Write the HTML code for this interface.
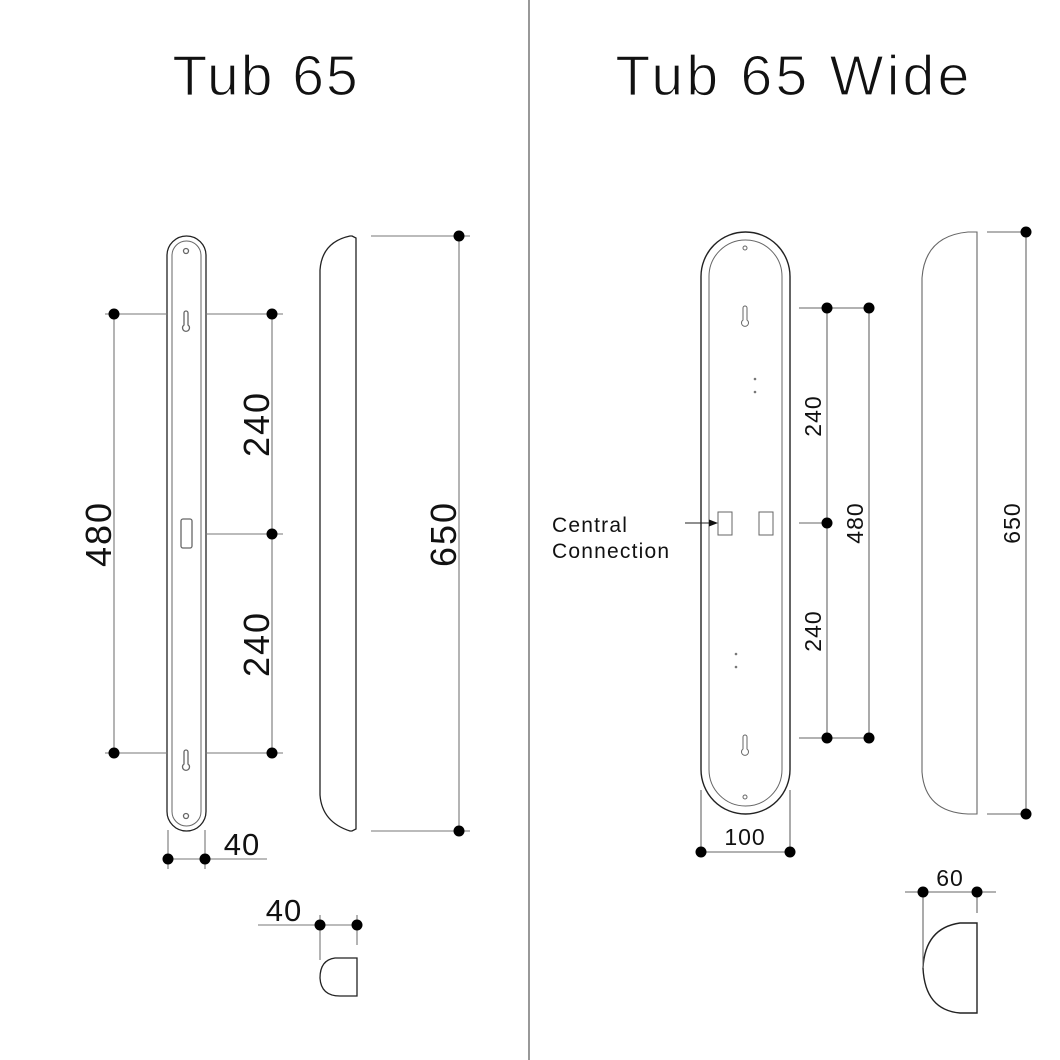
<!DOCTYPE html>
<html><head><meta charset="utf-8"><style>
html,body{margin:0;padding:0;background:#fff}
svg{display:block}
text{font-family:"Liberation Sans",sans-serif;fill:#111}
.t{stroke:#fff;stroke-width:1.2;paint-order:normal}
</style></head><body>
<svg width="1060" height="1060" viewBox="0 0 1060 1060">
<rect width="1060" height="1060" fill="#fff"/>
<line x1="529" y1="0" x2="529" y2="1060" stroke="#555" stroke-width="1.2"/>
<text class="t" x="266" y="95" font-size="57" text-anchor="middle" letter-spacing="2">Tub 65</text>
<text class="t" x="794" y="95" font-size="57" text-anchor="middle" letter-spacing="3.3">Tub 65 Wide</text>

<!-- LEFT -->
<g fill="none" stroke="#222" stroke-width="1.3">
<rect x="167" y="236" width="39" height="595" rx="19.5"/>
<rect x="172" y="241" width="29" height="585" rx="14.5" stroke="#666" stroke-width="1"/>
<circle cx="186" cy="251" r="2.5" stroke="#666"/>
<circle cx="186" cy="816" r="2.5" stroke="#666"/>
<path d="M184,313 L184,325 A3.5,3.5 0 1 0 188,325 L188,313 A2,2 0 0 0 184,313Z" stroke="#666"/>
<path d="M184,752 L184,764 A3.5,3.5 0 1 0 188,764 L188,752 A2,2 0 0 0 184,752Z" stroke="#666"/>
<rect x="181" y="519" width="11" height="29" rx="2" stroke="#666"/>
<path d="M352,236 L356,238 L356,829 L352,831 L350,831 Q322,822 320,795 L320,270 Q322,242 350,236 Z"/>
<path d="M357,958 L335,958 Q320,960 320,978 Q321,996 340,996 L357,996 Z"/>
</g>
<g stroke="#777" stroke-width="1.1" fill="none">
<line x1="105" y1="314" x2="168" y2="314"/><line x1="105" y1="753" x2="168" y2="753"/>
<line x1="114" y1="314" x2="114" y2="753"/>
<line x1="205" y1="314" x2="283" y2="314"/><line x1="205" y1="534" x2="283" y2="534"/><line x1="205" y1="753" x2="283" y2="753"/>
<line x1="272" y1="314" x2="272" y2="753"/>
<line x1="371" y1="236" x2="470" y2="236"/><line x1="371" y1="831" x2="470" y2="831"/>
<line x1="459" y1="236" x2="459" y2="831"/>
<line x1="168" y1="830" x2="168" y2="869"/><line x1="205" y1="830" x2="205" y2="869"/>
<line x1="168" y1="859" x2="267" y2="859"/>
<line x1="258" y1="925" x2="361" y2="925"/>
<line x1="320" y1="915" x2="320" y2="960"/><line x1="357" y1="915" x2="357" y2="945"/>
</g>
<g fill="#000">
<circle cx="114" cy="314" r="5.5"/><circle cx="114" cy="753" r="5.5"/>
<circle cx="272" cy="314" r="5.5"/><circle cx="272" cy="534" r="5.5"/><circle cx="272" cy="753" r="5.5"/>
<circle cx="459" cy="236" r="5.5"/><circle cx="459" cy="831" r="5.5"/>
<circle cx="168" cy="859" r="5.5"/><circle cx="205" cy="859" r="5.5"/>
<circle cx="320" cy="925" r="5.5"/><circle cx="357" cy="925" r="5.5"/>
</g>
<text font-size="36" text-anchor="middle" letter-spacing="2" transform="translate(111,534) rotate(-90)">480</text>
<text font-size="36" text-anchor="middle" letter-spacing="2" transform="translate(269,424) rotate(-90)">240</text>
<text font-size="36" text-anchor="middle" letter-spacing="2" transform="translate(269,644) rotate(-90)">240</text>
<text font-size="36" text-anchor="middle" letter-spacing="2" transform="translate(456,534) rotate(-90)">650</text>
<text x="242" y="855" font-size="31" text-anchor="middle" letter-spacing="1">40</text>
<text x="284" y="921" font-size="31" text-anchor="middle" letter-spacing="1">40</text>

<!-- RIGHT -->
<g fill="none" stroke="#222" stroke-width="1.4">
<rect x="701" y="232" width="89" height="582" rx="44.5"/>
<rect x="709" y="240" width="73" height="566" rx="36.5" stroke="#666" stroke-width="1"/>
<circle cx="745" cy="248" r="2" stroke="#666" stroke-width="1"/>
<circle cx="745" cy="797" r="2" stroke="#666" stroke-width="1"/>
<path d="M743,308 L743,320 A3.5,3.5 0 1 0 747,320 L747,308 A2,2 0 0 0 743,308Z" stroke="#666" stroke-width="1"/>
<path d="M743,737 L743,749 A3.5,3.5 0 1 0 747,749 L747,737 A2,2 0 0 0 743,737Z" stroke="#666" stroke-width="1"/>
<rect x="718" y="512" width="14" height="23" stroke="#666" stroke-width="1"/>
<rect x="759" y="512" width="14" height="23" stroke="#666" stroke-width="1"/>
<path d="M977,232 L968,232 Q925,236 922,278 L922,772 Q925,812 968,814 L977,814 Z" stroke="#666" stroke-width="1.1"/>
<path d="M977,923 L960,923 Q925,928 923,968 Q925,1010 960,1013 L977,1013 Z"/>
</g>
<g fill="#777"><circle cx="755" cy="379" r="1.3"/><circle cx="755" cy="392" r="1.3"/><circle cx="736" cy="654" r="1.3"/><circle cx="736" cy="667" r="1.3"/></g>
<g stroke="#666" stroke-width="1.1">
<line x1="799" y1="308" x2="869" y2="308"/><line x1="799" y1="523" x2="827" y2="523"/><line x1="799" y1="738" x2="869" y2="738"/>
<line x1="827" y1="308" x2="827" y2="738"/><line x1="869" y1="308" x2="869" y2="738"/>
<line x1="987" y1="232" x2="1030" y2="232"/><line x1="987" y1="814" x2="1030" y2="814"/>
<line x1="1026" y1="232" x2="1026" y2="814"/>
<line x1="701" y1="790" x2="701" y2="852"/><line x1="790" y1="790" x2="790" y2="852"/>
<line x1="701" y1="852" x2="790" y2="852"/>
<line x1="905" y1="892" x2="996" y2="892"/>
<line x1="923" y1="892" x2="923" y2="968"/><line x1="977" y1="892" x2="977" y2="913"/>
<line x1="685" y1="523" x2="712" y2="523" stroke="#222"/>
</g>
<path d="M718,523 L709,519.5 L709,526.5 Z" fill="#111"/>
<g fill="#000">
<circle cx="827" cy="308" r="5.5"/><circle cx="869" cy="308" r="5.5"/><circle cx="827" cy="523" r="5.5"/>
<circle cx="827" cy="738" r="5.5"/><circle cx="869" cy="738" r="5.5"/>
<circle cx="1026" cy="232" r="5.5"/><circle cx="1026" cy="814" r="5.5"/>
<circle cx="701" cy="852" r="5.5"/><circle cx="790" cy="852" r="5.5"/>
<circle cx="923" cy="892" r="5.5"/><circle cx="977" cy="892" r="5.5"/>
</g>
<text x="552" y="532" font-size="21" letter-spacing="1.2">Central</text>
<text x="552" y="558" font-size="21" letter-spacing="1.2">Connection</text>
<text font-size="23" text-anchor="middle" letter-spacing="1" transform="translate(821,416) rotate(-90)">240</text>
<text font-size="23" text-anchor="middle" letter-spacing="1" transform="translate(821,631) rotate(-90)">240</text>
<text font-size="23" text-anchor="middle" letter-spacing="1" transform="translate(863,523) rotate(-90)">480</text>
<text font-size="23" text-anchor="middle" letter-spacing="1" transform="translate(1020,523) rotate(-90)">650</text>
<text x="745" y="845" font-size="23" text-anchor="middle" letter-spacing="1">100</text>
<text x="950" y="886" font-size="23" text-anchor="middle" letter-spacing="1">60</text>
</svg>
</body></html>
